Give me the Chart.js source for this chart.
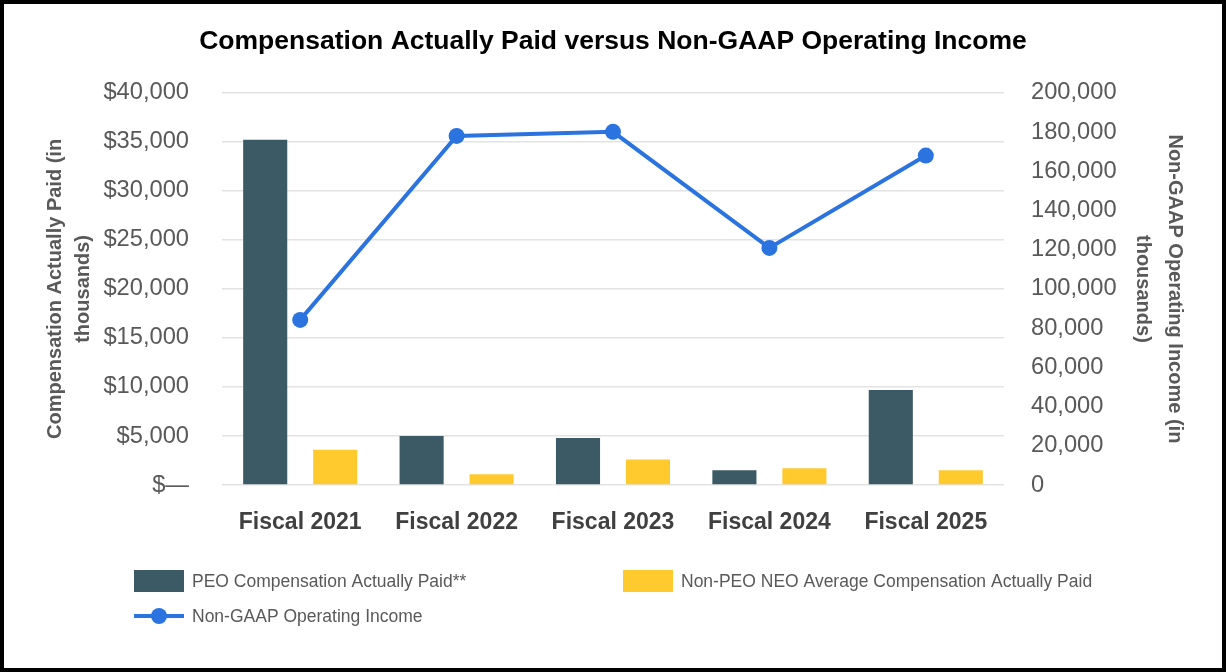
<!DOCTYPE html>
<html>
<head>
<meta charset="utf-8">
<script src="https://cdn.jsdelivr.net/npm/chart.js@4.4.1/dist/chart.umd.min.js"></script>
<style>
  html, body { margin: 0; padding: 0; background: #fff; }
  #wrap { position: relative; width: 1226px; height: 672px; }
</style>
</head>
<body>
<div id="wrap"><canvas id="c" width="1226" height="672"></canvas></div>
<script>
const categories = ['Fiscal 2021', 'Fiscal 2022', 'Fiscal 2023', 'Fiscal 2024', 'Fiscal 2025'];
const peoCap = [35200, 5000, 4800, 1500, 9700];
const neoCap = [3600, 1100, 2600, 1700, 1500];
const operatingIncome = [84200, 178000, 180100, 120900, 168000];
const leftTicks = [0, 5000, 10000, 15000, 20000, 25000, 30000, 35000, 40000];
const rightTicks = [0, 20000, 40000, 60000, 80000, 100000, 120000, 140000, 160000, 180000, 200000];

const PEO_COLOR = '#3c5a66';
const NEO_COLOR = '#ffca2e';
const LINE_COLOR = '#2b74e0';
const TEXT_GRAY = '#595959';
const FONT = "'Liberation Sans', Arial, sans-serif";

const legendPlugin = {
  id: 'customLegend',
  afterDraw(chart) {
    const ctx = chart.ctx;
    const ds = chart.data.datasets;
    ctx.save();
    ctx.font = '17.5px ' + FONT;
    ctx.textBaseline = 'middle';
    ctx.textAlign = 'left';
    // item 1
    ctx.fillStyle = PEO_COLOR;
    ctx.fillRect(134, 570, 50, 22);
    ctx.fillStyle = TEXT_GRAY;
    ctx.fillText(ds[0].label, 192, 582);
    // item 2
    ctx.fillStyle = NEO_COLOR;
    ctx.fillRect(623, 570, 50, 22);
    ctx.fillStyle = TEXT_GRAY;
    ctx.fillText(ds[1].label, 681, 582);
    // item 3
    ctx.strokeStyle = LINE_COLOR;
    ctx.lineWidth = 4;
    ctx.beginPath();
    ctx.moveTo(134, 616);
    ctx.lineTo(184, 616);
    ctx.stroke();
    ctx.fillStyle = LINE_COLOR;
    ctx.beginPath();
    ctx.arc(159, 616, 8, 0, Math.PI * 2);
    ctx.fill();
    ctx.fillStyle = TEXT_GRAY;
    ctx.fillText(ds[2].label, 192, 617);
    // frame
    ctx.strokeStyle = '#000';
    ctx.lineWidth = 4;
    ctx.strokeRect(2, 2, 1222, 668);
    ctx.restore();
  }
};

new Chart(document.getElementById('c'), {
  type: 'bar',
  data: {
    labels: categories,
    datasets: [
      {
        label: 'PEO Compensation Actually Paid**',
        data: peoCap,
        backgroundColor: PEO_COLOR,
        yAxisID: 'y',
        order: 1,
        categoryPercentage: 0.895,
        barPercentage: 0.63
      },
      {
        label: 'Non-PEO NEO Average Compensation Actually Paid',
        data: neoCap,
        backgroundColor: NEO_COLOR,
        yAxisID: 'y',
        order: 1,
        categoryPercentage: 0.895,
        barPercentage: 0.63
      },
      {
        type: 'line',
        label: 'Non-GAAP Operating Income',
        data: operatingIncome,
        borderColor: LINE_COLOR,
        backgroundColor: LINE_COLOR,
        borderWidth: 4,
        pointRadius: 8,
        pointHoverRadius: 8,
        pointBackgroundColor: LINE_COLOR,
        pointBorderWidth: 0,
        tension: 0,
        yAxisID: 'y1',
        order: 0
      }
    ]
  },
  options: {
    responsive: false,
    animation: false,
    devicePixelRatio: 1,
    layout: { padding: { left: 30, right: 30, top: 0, bottom: 127 } },
    plugins: {
      legend: { display: false },
      tooltip: { enabled: false },
      title: {
        display: true,
        text: 'Compensation Actually Paid versus Non-GAAP Operating Income',
        color: '#000',
        font: { family: FONT, size: 26.5, weight: 'bold', lineHeight: 1.2 },
        padding: { top: 26, bottom: 35 }
      }
    },
    scales: {
      x: {
        grid: { display: false },
        border: { display: false },
        ticks: {
          color: '#404040',
          font: { family: FONT, size: 23, weight: 'bold' },
          padding: 16,
          maxRotation: 0
        },
        afterFit(scale) { scale.height = 60; }
      },
      y: {
        position: 'left',
        min: 0,
        max: 40000,
        afterBuildTicks(scale) { scale.ticks = leftTicks.map(v => ({ value: v })); },
        grid: { color: '#e3e3e3', lineWidth: 1.5, drawTicks: false },
        border: { display: false },
        ticks: {
          color: TEXT_GRAY,
          font: { family: FONT, size: 23.7 },
          padding: 33,
          callback: v => v === 0 ? '$\u2014' : '$' + v.toLocaleString('en-US')
        },
        title: {
          display: true,
          text: ['Compensation Actually Paid (in', 'thousands)'],
          color: TEXT_GRAY,
          font: { family: FONT, size: 20, weight: 'bold', lineHeight: 1.4 },
          padding: { top: 11, bottom: 0 }
        },
        afterFit(scale) { scale.width = 192; }
      },
      y1: {
        position: 'right',
        min: 0,
        max: 200000,
        afterBuildTicks(scale) { scale.ticks = rightTicks.map(v => ({ value: v })); },
        grid: { display: false, drawTicks: false },
        border: { display: false },
        ticks: {
          color: TEXT_GRAY,
          font: { family: FONT, size: 23.7 },
          padding: 27,
          callback: v => v.toLocaleString('en-US')
        },
        title: {
          display: true,
          text: ['Non-GAAP Operating Income (in', 'thousands)'],
          color: TEXT_GRAY,
          font: { family: FONT, size: 20, weight: 'bold', lineHeight: 1.6 },
          padding: { top: 5, bottom: 0 }
        },
        afterFit(scale) { scale.width = 192; }
      }
    }
  },
  plugins: [legendPlugin]
});
</script>
</body>
</html>
